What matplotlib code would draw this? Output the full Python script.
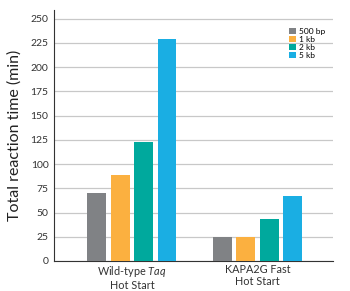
import numpy as np
import matplotlib
matplotlib.use('Agg')
import matplotlib.pyplot as plt

plt.rcParams['font.family'] = ['Lato', 'DejaVu Sans']
plt.rcParams['mathtext.fontset'] = 'custom'
plt.rcParams['mathtext.rm'] = 'Lato'
plt.rcParams['mathtext.it'] = 'Lato:italic'

groups = ['Wild-type $\\mathit{Taq}$\nHot Start', 'KAPA2G Fast\nHot Start']
series = ['500 bp', '1 kb', '2 kb', '5 kb']
values = {
    '500 bp': [70, 25],
    '1 kb': [89, 25],
    '2 kb': [123, 43],
    '5 kb': [229, 67],
}
colors = ['#808285', '#fbb040', '#00a99d', '#1aaee3']
yticks = [0, 25, 50, 75, 100, 125, 150, 175, 200, 225, 250]

fig = plt.figure(figsize=(3.5, 2.91), dpi=100)
ax = fig.add_axes([54 / 350, 30 / 291, 279 / 350, 251 / 291])

x = np.arange(len(groups))
width = 0.15
step = 0.186
for i, s in enumerate(series):
    ax.bar(x + (i - 1.5) * step, values[s], width, color=colors[i], label=s, zorder=3)

ax.set_xlim(-0.62, 1.6)
ax.set_ylim(0, 259)
ax.set_yticks(yticks)
ax.set_xticks(x)
ax.set_xticklabels(groups, fontsize=7.8, color='#333333', linespacing=1.15)
ax.tick_params(axis='y', labelsize=7.5, colors='#333333', length=0, pad=4)
ax.tick_params(axis='x', length=0, pad=2)
ax.yaxis.grid(True, color='#c8c8c8', linewidth=0.9, zorder=0)
for sp in ['top', 'right']:
    ax.spines[sp].set_visible(False)
ax.spines['left'].set_color('#333333')
ax.spines['bottom'].set_color('#333333')
ax.spines['left'].set_linewidth(0.8)
ax.spines['bottom'].set_linewidth(0.8)
ax.set_ylabel('Total reaction time (min)', fontsize=11.5, color='#222222', labelpad=6)

leg = ax.legend(loc='upper right', bbox_to_anchor=(1.0, 0.96), fontsize=6, frameon=False,
                handlelength=0.8, handleheight=0.8, handletextpad=0.4, labelspacing=0.12)

fig.savefig('out.png', dpi=100)
